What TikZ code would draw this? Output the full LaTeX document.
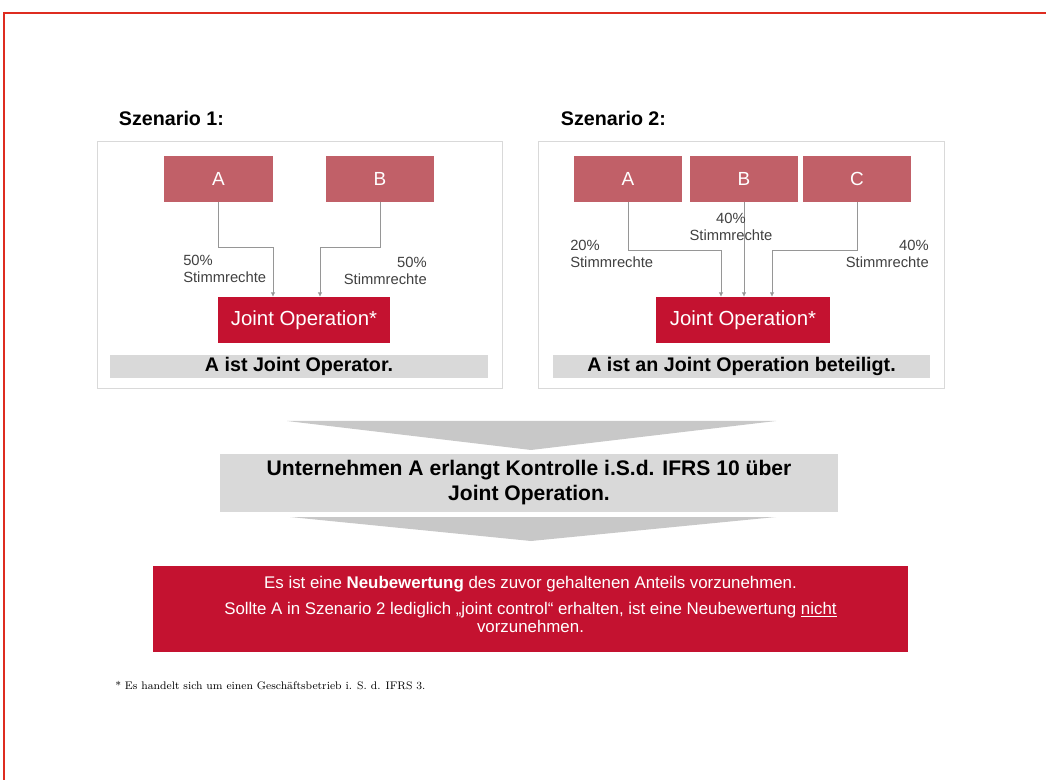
\documentclass[tikz,border=0pt]{standalone}
\usepackage{fontspec}
\setsansfont{Liberation Sans}
\usetikzlibrary{arrows.meta}

\definecolor{partyred}{RGB}{193,96,104}
\definecolor{jored}{RGB}{196,18,48}
\definecolor{framered}{RGB}{222,44,32}
\definecolor{barfill}{RGB}{217,217,217}
\definecolor{chevfill}{RGB}{200,200,200}
\definecolor{linegray}{RGB}{150,150,150}

\tikzset{
  party/.style={fill=partyred, text=white, minimum width=2.7cm, minimum height=1.15cm,
    font=\sffamily\fontsize{13.5}{15}\selectfont},
  jo/.style={fill=jored, text=white, minimum height=1.15cm,
    font=\sffamily\fontsize{14.5}{16}\selectfont},
  verdict/.style={fill=barfill, minimum height=0.575cm, inner sep=0pt,
    font=\sffamily\bfseries\fontsize{14}{16}\selectfont},
  share/.style={font=\sffamily\fontsize{10.5}{12}\selectfont, text=black!75, inner sep=0pt},
  vote/.style={draw=linegray, -{Latex[length=3pt,width=3pt]}},
  heading/.style={anchor=west, font=\sffamily\bfseries\fontsize{14}{16}\selectfont},
}

\begin{document}
\begin{tikzpicture}[x=0.025cm, y=-0.025cm]
\useasboundingbox (0,0) rectangle (1046,780);
\draw[framered, line width=1.4pt] (1046,13) -- (4,13) -- (4,780);

% Szenario 1
\node[heading] (s1) at (114,118) {Szenario 1:};
\draw[black!15] (97,141) rectangle (502,388);
\node[party] (A1) at (218.5,179) {A};
\node[party] (B1) at (380,179) {B};
\node[jo, minimum width=4.3cm] (JO1) at (304,320) {Joint Operation*};
\node[verdict, minimum width=9.45cm] (v1) at (299,366.5) {A ist Joint Operator.};
\draw[vote] (A1.south) -- ++(0,45) -| ([xshift=-0.775cm]JO1.north);
\draw[vote] (B1.south) -- ++(0,45) -| ([xshift=0.4cm]JO1.north);
\node[share, align=left, anchor=north west] (pA1) at (183,255) {50\%\\Stimmrechte};
\node[share, align=right, anchor=north east] (pB1) at (427,257) {50\%\\Stimmrechte};

% Szenario 2
\node[heading] (s2) at (556,118) {Szenario 2:};
\draw[black!15] (538,141) rectangle (944,388);
\node[party] (A2) at (628,179) {A};
\node[party] (B2) at (744,179) {B};
\node[party] (C2) at (857,179) {C};
\node[jo, minimum width=4.35cm] (JO2) at (743,320) {Joint Operation*};
\node[verdict, minimum width=9.425cm] (v2) at (741.5,366.5) {A ist an Joint Operation beteiligt.};
\draw[vote] (A2.south) -- ++(0,48) -| ([xshift=-0.55cm]JO2.north);
\draw[vote] (B2.south) -- (B2.south |- JO2.north);
\draw[vote] (C2.south) -- ++(0,48) -| ([xshift=0.725cm]JO2.north);
\node[share, align=left, anchor=north west] (pA2) at (570,240) {20\%\\Stimmrechte};
\node[share, align=center, anchor=north] (pB2) at (731,213) {40\%\\Stimmrechte};
\node[share, align=right, anchor=north east] (pC2) at (929,240) {40\%\\Stimmrechte};

% Ergebnis
\fill[chevfill] (287,421) -- (776,421) -- (531,450) -- cycle;
\node[fill=barfill, minimum width=15.45cm, minimum height=1.425cm, align=center,
  font=\sffamily\bfseries\fontsize{15}{17.8}\selectfont] (ctrl) at (529,483)
  {Unternehmen A erlangt Kontrolle i.S.d. IFRS 10 über\\Joint Operation.};
\fill[chevfill] (290,517) -- (776,517) -- (531,541) -- cycle;
\node[fill=jored, text=white, minimum width=18.875cm, minimum height=2.15cm, align=center,
  font=\sffamily\fontsize{12}{13.2}\selectfont] (res) at (530.5,609)
  {\raisebox{3pt}{Es ist eine \textbf{Neubewertung} des zuvor gehaltenen Anteils vorzunehmen.}\\[2pt]
   Sollte A in Szenario 2 lediglich „joint control“ erhalten, ist eine Neubewertung \underline{nicht}\\
   \raisebox{0pt}{vorzunehmen.}\\[-7pt]};
\node[anchor=west, inner sep=0pt, font=\rmfamily\fontsize{7.8}{9}\selectfont] (fn) at (115,686)
  {* Es handelt sich um einen Geschäftsbetrieb i. S. d. IFRS 3.};
\end{tikzpicture}
\end{document}
